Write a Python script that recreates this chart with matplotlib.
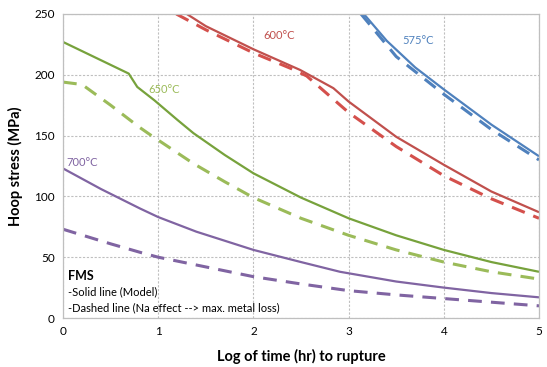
import matplotlib

matplotlib.use("Agg")
import matplotlib.pyplot as plt

plt.rcParams["font.family"] = ["Lato", "DejaVu Sans"]

# 575 C
x575_s = [3.16, 3.4, 3.7, 4.0, 4.5, 5.0]
y575_s = [250, 228, 206, 188, 159, 133]
x575_d = [3.13, 3.5, 4.0, 4.5, 5.0]
y575_d = [250, 215, 184, 155, 130]

# 600 C
x600_s = [1.30, 1.5, 2.0, 2.49, 2.84, 3.0, 3.5, 4.0, 4.5, 5.0]
y600_s = [250, 240, 221, 204, 189, 178, 149, 126, 104, 87]
x600_d = [1.19, 1.5, 2.0, 2.4, 2.56, 3.0, 3.5, 4.0, 4.5, 5.0]
y600_d = [250, 237, 218, 205, 199, 169, 141, 117, 98, 82]

# 650 C
x650_s = [0, 0.69, 0.78, 0.96, 1.2, 1.37, 1.7, 2.0, 2.5, 3.0, 3.5, 4.0, 4.5, 5.0]
y650_s = [227, 201, 190, 179, 163, 152, 134, 119, 99, 82, 68, 56, 46, 38]
x650_d = [0, 0.2, 0.5, 0.8, 0.91, 1.37, 1.7, 2.0, 2.5, 3.0, 3.5, 4.0, 4.5, 5.0]
y650_d = [194, 192, 175, 157, 151, 127, 112, 99, 82, 68, 56, 46, 38, 32]

# 700 C
x700_s = [0, 0.4, 0.81, 1.0, 1.4, 2.0, 2.5, 2.91, 3.5, 4.0, 4.5, 5.0]
y700_s = [123, 106, 90, 83, 71, 56, 46, 38, 30, 25, 20.5, 17]
x700_d = [0, 0.5, 0.81, 1.0, 1.5, 2.0, 2.5, 3.0, 3.5, 4.0, 4.5, 5.0]
y700_d = [73, 61, 54, 50, 42, 34, 28, 22.5, 19, 16, 13, 10]

BLUE = "#4F81BD"
RED_S = "#C0504D"
RED_D = "#D4504C"
GREEN_S = "#77A23C"
GREEN_D = "#9BBB59"
PURPLE = "#8064A2"

fig = plt.figure(figsize=(5.47, 3.67), dpi=100)
ax = fig.add_axes([0.1152, 0.1335, 0.8702, 0.8284])

solid = dict(linewidth=1.6, solid_capstyle="butt")
dashed = dict(linewidth=2.2, dashes=(4.5, 3.0))

ax.plot(x575_s, y575_s, color=BLUE, **solid)
ax.plot(x575_d, y575_d, color=BLUE, **dashed)
ax.plot(x600_s, y600_s, color=RED_S, **solid)
ax.plot(x600_d, y600_d, color=RED_D, **dashed)
ax.plot(x650_s, y650_s, color=GREEN_S, **solid)
ax.plot(x650_d, y650_d, color=GREEN_D, **dashed)
ax.plot(x700_s, y700_s, color=PURPLE, **solid)
ax.plot(x700_d, y700_d, color=PURPLE, **dashed)

ax.text(2.10, 232, "600°C", color=RED_S, fontsize=8, va="center")
ax.text(3.56, 228, "575°C", color=BLUE, fontsize=8, va="center")
ax.text(0.90, 188, "650°C", color=GREEN_D, fontsize=8, va="center")
ax.text(0.04, 128, "700°C", color=PURPLE, fontsize=8, va="center")

ax.text(0.05, 34.5, "FMS", fontsize=9, fontweight="bold", va="center")
ax.text(0.05, 21.5, "-Solid line (Model)", fontsize=8, va="center")
ax.text(0.05, 8.5, "-Dashed line (Na effect --> max. metal loss)", fontsize=8, va="center")

ax.set_xlim(0, 5)
ax.set_ylim(0, 250)
ax.set_xticks(range(0, 6))
ax.set_yticks(range(0, 251, 50))
ax.tick_params(length=0, labelsize=8.5, pad=6)
ax.grid(True, color="#BFBFBF", linestyle=(0, (2, 1.5)), linewidth=0.8)
for sp in ax.spines.values():
    sp.set_color("#BFBFBF")
    sp.set_linewidth(0.9)

ax.set_xlabel("Log of time (hr) to rupture", fontsize=10.5, fontweight="bold", labelpad=8)
ax.set_ylabel("Hoop stress (MPa)", fontsize=10.5, fontweight="bold", labelpad=8)

fig.savefig("out.png", dpi=100)
